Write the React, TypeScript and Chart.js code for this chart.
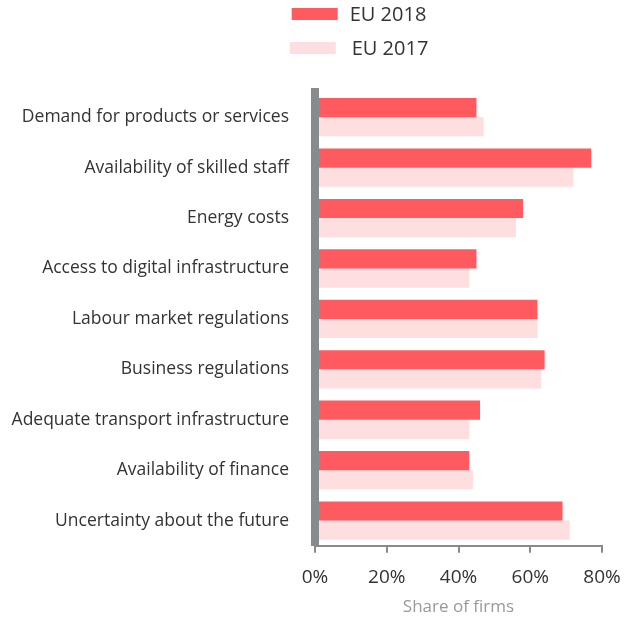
import React, { useEffect, useRef } from "react";
import { Chart, registerables } from "chart.js";

Chart.register(...registerables);

const categories = [
  "Demand for products or services",
  "Availability of skilled staff",
  "Energy costs",
  "Access to digital infrastructure",
  "Labour market regulations",
  "Business regulations",
  "Adequate transport infrastructure",
  "Availability of finance",
  "Uncertainty about the future",
];
const eu2018 = [45, 77, 58, 45, 62, 64, 46, 43, 69];
const eu2017 = [47, 72, 56, 43, 62, 63, 43, 44, 71];
const xTicks = [0, 20, 40, 60, 80];

const FONT = "'Open Sans', 'Noto Sans', sans-serif";

const legendPlugin = {
  id: "customLegend",
  afterDraw(chart: any) {
    const ctx = chart.ctx;
    ctx.save();
    ctx.font = `20px ${FONT}`;
    ctx.textBaseline = "middle";
    ctx.textAlign = "left";
    const centerX = 351;
    chart.data.datasets.forEach((ds: any, i: number) => {
      const y = 14 + i * 34;
      const tw = ctx.measureText(ds.label).width;
      const boxW = 46;
      const gap = 12 + i * 4;
      const total = boxW + gap + tw;
      const x0 = centerX - total / 2;
      ctx.fillStyle = ds.backgroundColor;
      ctx.fillRect(x0, y - 6, boxW, 12);
      ctx.fillStyle = "#333333";
      ctx.fillText(ds.label, x0 + boxW + gap, y + 1);
    });
    ctx.restore();
  },
};

export default function App() {
  const ref = useRef<HTMLCanvasElement>(null);
  useEffect(() => {
    if (!ref.current) return;
    const chart = new Chart(ref.current, {
      type: "bar",
      data: {
        labels: categories,
        datasets: [
          {
            label: "EU 2018",
            data: eu2018,
            backgroundColor: "#FF5A5F",
            borderWidth: 0,
          },
          {
            label: "EU 2017",
            data: eu2017,
            backgroundColor: "#FFDEDF",
            borderWidth: 0,
          },
        ],
      },
      options: {
        indexAxis: "y",
        animation: false,
        responsive: true,
        maintainAspectRatio: false,
        layout: { padding: { top: 92, right: 0, left: 0, bottom: 1 } },
        datasets: {
          bar: { categoryPercentage: 0.76, barPercentage: 1.0 },
        },
        plugins: {
          legend: { display: false },
          tooltip: { enabled: false },
        },
        scales: {
          x: {
            min: 0,
            max: 80,
            afterBuildTicks(scale: any) {
              scale.ticks = xTicks.map((v) => ({ value: v }));
            },
            afterFit(scale: any) {
              scale.paddingRight = 26;
            },
            grid: {
              drawOnChartArea: false,
              drawTicks: true,
              tickLength: 7,
              color: "#888B8D",
              lineWidth: 2,
            },
            border: { display: true, color: "#888B8D", width: 2 },
            ticks: {
              color: "#333333",
              font: { family: FONT, size: 19 },
              padding: 13,
              callback: (v: any) => v + "%",
            },
            title: {
              display: true,
              text: "Share of firms",
              color: "#999999",
              font: { family: FONT, size: 17 },
              padding: { top: -5, bottom: 0 },
            },
          },
          y: {
            afterFit(scale: any) {
              scale.width = 307;
            },
            grid: { display: false, drawTicks: false },
            border: { display: true, color: "#888B8D", width: 8, z: 1 },
            ticks: {
              color: "#333333",
              font: { family: FONT, size: 17.5 },
              padding: 26,
            },
          },
        },
      },
      plugins: [legendPlugin],
    });
    return () => chart.destroy();
  }, []);
  return (
    <div style={{ width: 620, height: 618, position: "absolute", top: 0, left: 8 }}>
      <canvas ref={ref} />
    </div>
  );
}
